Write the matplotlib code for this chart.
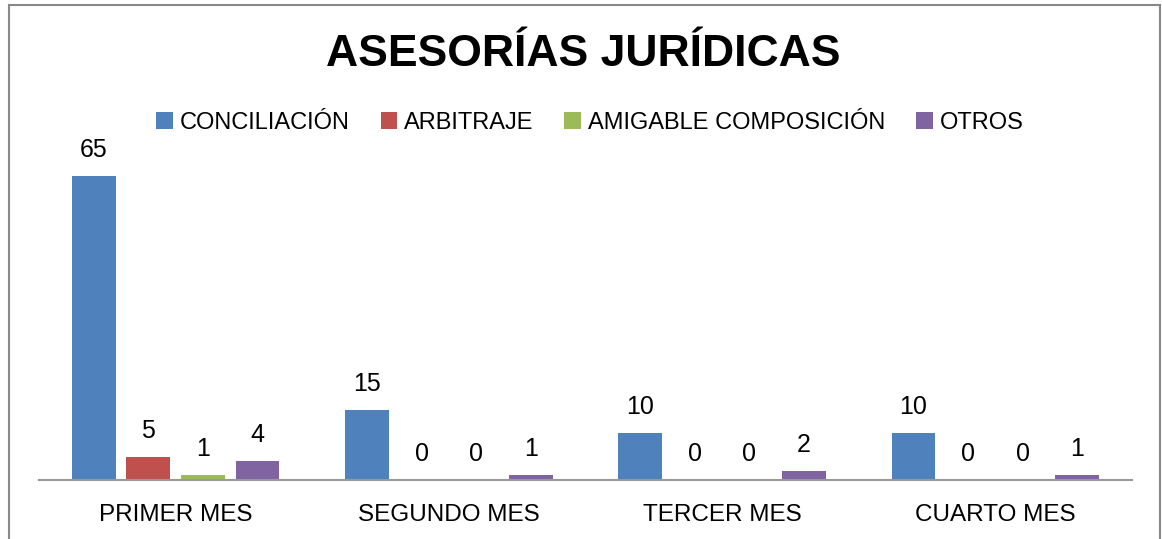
import numpy as np
import matplotlib.pyplot as plt
from matplotlib.patches import Rectangle

meses = ["PRIMER MES", "SEGUNDO MES", "TERCER MES", "CUARTO MES"]
series = ["CONCILIACIÓN", "ARBITRAJE", "AMIGABLE COMPOSICIÓN", "OTROS"]
conciliacion = [65, 15, 10, 10]
arbitraje = [5, 0, 0, 0]
amigable = [1, 0, 0, 0]
otros = [4, 1, 2, 1]
valores = [conciliacion, arbitraje, amigable, otros]
colores = ["#4F81BD", "#C0504D", "#9BBB59", "#8064A2"]

plt.rcParams['font.family'] = ['Liberation Sans', 'DejaVu Sans']

W, H = 1162, 539
fig = plt.figure(figsize=(W / 100, H / 100), dpi=100)
ax = fig.add_axes([39 / W, 59 / H, (1132 - 39) / W, 330 / H])

x = np.arange(len(meses))
ancho = 0.16
offsets = [-0.3, -0.1, 0.1, 0.3]
for vals, nombre, c, off in zip(valores, series, colores, offsets):
    bars = ax.bar(x + off, vals, ancho, color=c, label=nombre)
    for b, v in zip(bars, vals):
        ax.annotate(str(v), (b.get_x() + b.get_width() / 2, v),
                    xytext=(0, 10), textcoords="offset points",
                    ha="center", va="bottom", fontsize=18)

ax.set_xlim(-0.5, 3.5)
ax.set_ylim(0, 330 / 4.68)
ax.set_xticks(x)
ax.set_xticklabels(meses, fontsize=17.5)
ax.tick_params(axis="x", length=0, pad=17)
ax.set_yticks([])
for s in ["top", "right", "left"]:
    ax.spines[s].set_visible(False)
ax.spines["bottom"].set_color("#999999")
ax.spines["bottom"].set_linewidth(1.5)

fig.text(0.502, 1 - 54 / H, "ASESORÍAS JURÍDICAS", ha="center", va="center",
         fontsize=32, fontweight="bold")
fig.legend(loc="center", bbox_to_anchor=(590 / W, 1 - 123 / H), ncol=4,
           frameon=False, fontsize=17, handlelength=0.7, handleheight=0.7,
           handletextpad=0.3, columnspacing=1.3)

fig.patches.append(Rectangle((9 / W, -0.05), (1160 - 9) / W, 1.05 - 5 / H,
                             transform=fig.transFigure, fill=False,
                             edgecolor="#888888", linewidth=1.5))

fig.savefig("out.png", dpi=100)
